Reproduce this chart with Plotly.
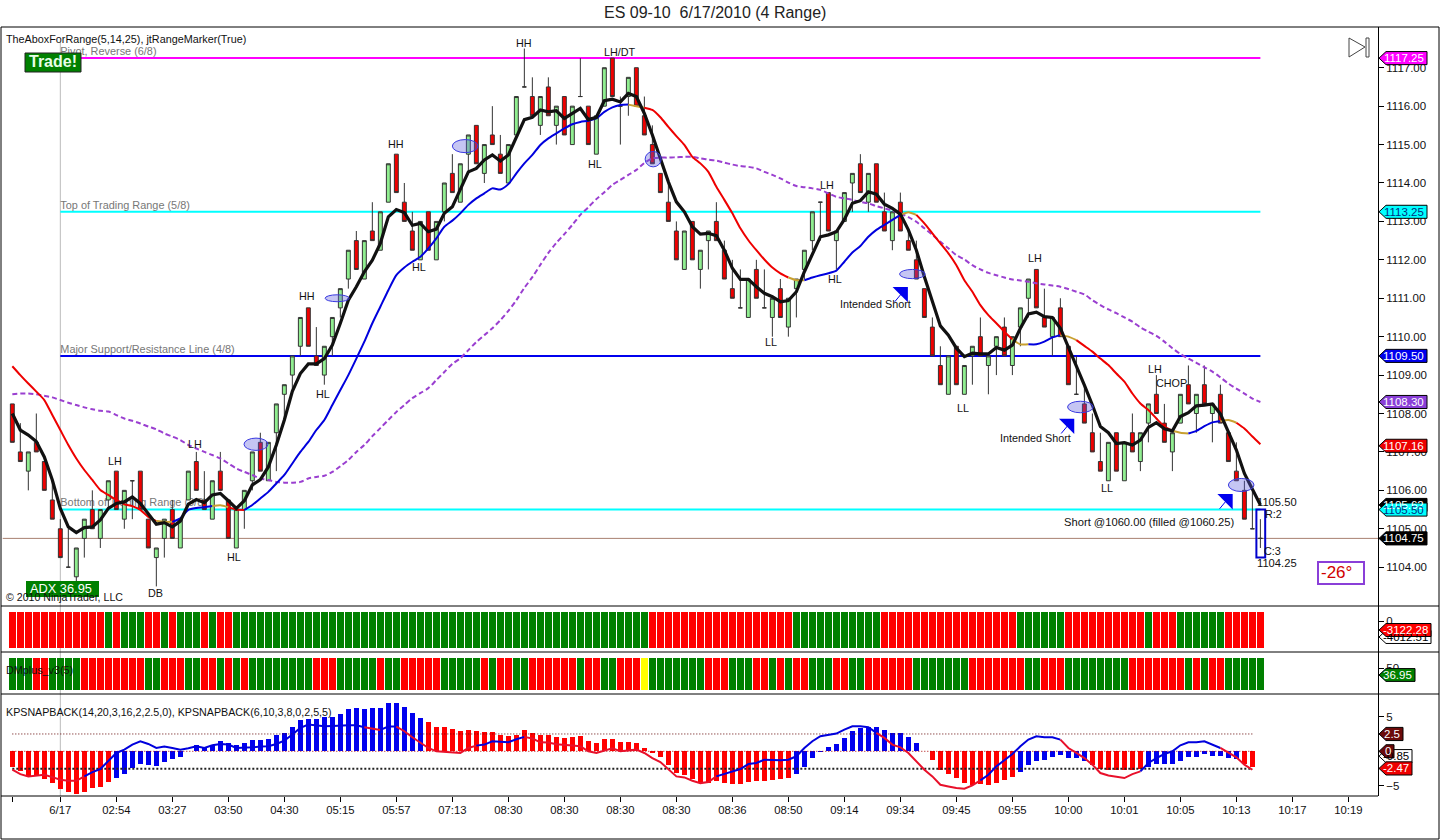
import plotly.graph_objects as go

FONT = "Liberation Sans"

# 4 range bars
opens = [1108.25,1107,1106.5,1107.25,1106.75,1105.75,1105,1104,1103.75,1104.75,1105.5,1104.75,1105.75,1106.5,1105.25,1106.25,1106.5,1105.25,1104.25,1104.75,
         1105.5,1104.5,1105.75,1106.75,1105.75,1105.25,1106.5,1105.75,1104.5,1105.5,1106.25,1107.25,1106.25,1107.5,1108.5,1109,1109.75,1110.75,1109.5,1109,
         1110,1110.75,1111.5,1112.5,1111.5,1112.75,1112.25,1113.5,1114.75,1113.5,1112.75,1112,1113.25,1112,1113.25,1114.25,1113.5,1114.75,1115.5,1114.25,
         1115.25,1114.75,1114,1115.25,1116.5,1116.25,1115.5,1116.5,1115.5,1116.25,1115,1116.25,1116,1114.75,1116,1117.25,1116,1116.25,1117,1115.75,
         1115,1114.25,1113.5,1112.75,1111.75,1113,1111.75,1112.5,1113,1112.25,1111.25,1110.75,1110.5,1111.75,1110.75,1110.5,1111.25,1110.25,1111.25,1111.75,
         1112.5,1113.5,1113.75,1112.5,1113,1114,1114.5,1113.5,1114.5,1113.25,1112.5,1113.5,1112.5,1112,1111.25,1110.25,1109.25,1108.5,1109.75,1108.5,
         1109.5,1110,1109.25,1109.75,1110.25,1109.25,1110.25,1111,1111.75,1110.5,1110,1110.75,1109.75,1108.5,1108.25,1107.5,1106.75,1106.25,1107.5,1106.25,
         1107.5,1106.75,1107.75,1108.5,1107.75,1107,1107.75,1108.75,1108,1108.75,1108,1108.5,1107.5,1106.5,1106,1105,1104.75]
highs = [1108.25,1107.75,1107,1108,1106.75,1106.25,1105.25,1105,1104.5,1105.25,1106,1105.5,1106.25,1106.5,1106,1106.25,1106.5,1105.25,1104.5,1105.25,
         1105.75,1105.25,1106.5,1107,1106.5,1106.25,1107,1105.75,1105.5,1106,1107,1107.5,1107.25,1108.25,1108.75,1109.5,1110.5,1110.75,1110.25,1109.75,
         1110.5,1111.25,1112.25,1112.75,1112.5,1113.5,1113.25,1114.5,1114.75,1114,1113.25,1113,1113.25,1113,1114,1114.75,1114.5,1115.25,1115.5,1115,
         1116,1115.25,1115,1116.25,1117.5,1116.75,1116.25,1116.75,1116,1116.25,1116,1117.25,1116,1115.75,1117,1117.25,1116.25,1116.75,1117,1116.25,
         1115.5,1114.25,1114,1113,1112.75,1113,1112.25,1112.75,1113.5,1112.5,1112,1111.75,1111.5,1112,1111.75,1111,1111.5,1111,1111.5,1112.25,
         1113.25,1113.5,1113.75,1112.75,1113.75,1114.25,1114.75,1114.25,1114.5,1113.75,1113.25,1113.75,1112.75,1112.5,1111.25,1110.5,1109.75,1109.5,1109.75,1109.25,
         1109.75,1110.5,1109.5,1110,1110.5,1110,1110.75,1111.5,1111.75,1111.25,1110.5,1111,1109.75,1109.5,1108.75,1108,1107.5,1107.25,1107.5,1107.25,
         1108,1107.5,1108.25,1109,1108.25,1107.5,1108.5,1109.25,1108.5,1109.25,1108.25,1108.75,1107.5,1107.25,1106.25,1106,1105.25]
lows = [1107.25,1106.75,1106,1107,1106,1105.25,1104.25,1104,1103.5,1104.25,1105,1104.5,1105.5,1105.5,1105,1105.25,1105.5,1104.5,1103.5,1104.25,
        1104.75,1104.5,1105.75,1106,1105.5,1105.25,1106,1104.75,1104.5,1105,1106,1106.5,1106.25,1106.5,1107.75,1108.5,1109.5,1109.75,1109.25,1108.75,
        1109.5,1110.5,1111.25,1111.75,1111.5,1112.5,1112.25,1113.5,1113.75,1113,1112.25,1112,1112.25,1112,1113,1113.75,1113.5,1114.25,1114.5,1114,
        1115,1114.25,1114,1115.25,1116.5,1115.75,1115.25,1115.75,1115,1115.25,1115,1116.25,1115,1114.75,1116,1116.25,1115,1115.75,1116,1115.25,
        1114.5,1113.75,1113,1112,1111.75,1112,1111.25,1111.75,1112.5,1111.5,1111,1110.75,1110.5,1111,1110.75,1110,1110.5,1110,1110.5,1111.5,
        1112.25,1112.5,1112.75,1111.75,1113,1113.25,1113.75,1113.25,1113.5,1112.75,1112.25,1112.75,1112.25,1111.5,1110.5,1109.5,1108.75,1108.5,1108.75,1108.5,
        1108.75,1109.5,1108.5,1109,1109.5,1109,1109.75,1110.5,1110.75,1110.25,1109.5,1110,1108.75,1108.5,1107.75,1107,1106.5,1106.25,1106.5,1106.25,
        1107,1106.5,1107.25,1108,1107.25,1106.5,1107.75,1108.25,1107.5,1108.25,1107.25,1107.75,1106.75,1106.25,1105.25,1105,1104.5]
closes = [1107.25,1106.75,1107,1107,1106,1105.25,1104.25,1104,1104.5,1105.25,1105,1105.5,1106.25,1105.5,1106,1106.25,1105.5,1104.5,1104.5,1105.25,
          1104.75,1105.25,1106.5,1106,1105.5,1106.25,1106,1104.75,1105.5,1106,1107,1106.5,1107.25,1108.25,1108.75,1109.5,1110.5,1109.75,1109.25,1109.75,
          1110.5,1111.25,1112.25,1111.75,1112.5,1112.5,1113.25,1114.5,1113.75,1113,1112.25,1113,1112.25,1113,1114,1113.75,1114.5,1115.25,1114.5,1115,
          1115,1114.25,1115,1116.25,1116.5,1115.75,1116.25,1115.75,1116,1115.25,1116,1116.25,1115,1115.75,1117,1116.25,1116,1116.75,1116,1115.25,
          1114.5,1113.75,1113,1112,1112.75,1112,1112.25,1112.75,1112.5,1111.5,1111,1110.75,1111.5,1111,1110.75,1111,1110.5,1111,1111.5,1112.25,
          1113.25,1113.5,1112.75,1112.75,1113.75,1114.25,1113.75,1114.25,1113.5,1112.75,1113.25,1112.75,1112.25,1111.5,1110.5,1109.5,1108.75,1109.5,1108.75,1109.25,
          1109.75,1109.5,1109.5,1110,1109.5,1110,1110.75,1111.5,1110.75,1110.25,1110.5,1110,1108.75,1108.5,1107.75,1107,1106.5,1107.25,1106.5,1107.25,
          1107,1107.5,1108.25,1108,1107.25,1107.5,1108.5,1108.25,1108.5,1108.25,1108.25,1107.75,1106.75,1106.25,1105.25,1105,1104.75]

# fast average (black)
fast_ma = [1108,1107.57,1107.44,1107.27,1106.87,1106.27,1105.53,1105.05,1104.9,1105.03,1105.05,1105.23,1105.53,1105.66,1105.7,1105.83,1105.66,1105.4,1105.12,1105.16,
           1105.05,1105.2,1105.64,1105.76,1105.68,1105.88,1105.92,1105.73,1105.53,1105.73,1106.14,1106.28,1106.61,1107.18,1107.83,1108.58,1109.04,1109.29,1109.29,1109.43,
           1109.78,1110.35,1110.95,1111.3,1111.69,1111.99,1112.43,1113.12,1113.31,1113.23,1112.9,1112.95,1112.73,1112.8,1113.21,1113.38,1113.82,1114.29,1114.38,1114.6,
           1114.73,1114.57,1114.73,1115.2,1115.65,1115.71,1115.9,1115.85,1115.88,1115.68,1115.81,1115.94,1115.65,1115.71,1116.14,1116.18,1116.11,1116.33,1116.25,1115.81,
           1115.25,1114.64,1114.03,1113.51,1113.25,1112.86,1112.67,1112.69,1112.63,1112.25,1111.78,1111.49,1111.49,1111.3,1111.13,1111.04,1110.91,1110.94,1111.17,1111.69,
           1112.17,1112.6,1112.65,1112.73,1113.05,1113.47,1113.54,1113.77,1113.71,1113.45,1113.34,1113.19,1112.78,1112.25,1111.56,1110.91,1110.28,1110.04,1109.7,1109.48,
           1109.57,1109.55,1109.55,1109.72,1109.65,1109.78,1110.22,1110.59,1110.64,1110.52,1110.5,1110.22,1109.74,1109.26,1108.74,1108.22,1107.66,1107.5,1107.22,1107.24,
           1107.18,1107.31,1107.64,1107.76,1107.6,1107.55,1107.92,1108.02,1108.2,1108.22,1108.25,1107.99,1107.53,1107.05,1106.44,1106.05,1105.62]

# trend average, changes colour with direction
trend_ma = [1109.23,1109,1108.78,1108.57,1108.35,1107.96,1107.57,1107.18,1106.83,1106.53,1106.27,1106.01,1105.88,1105.75,1105.64,1105.59,1105.49,1105.31,1105.2,1105.18,
            1105.18,1105.27,1105.49,1105.54,1105.56,1105.59,1105.61,1105.56,1105.5,1105.49,1105.62,1105.79,1105.96,1106.18,1106.4,1106.7,1107,1107.26,1107.57,1107.83,
            1108.22,1108.61,1109,1109.43,1109.87,1110.35,1110.78,1111.21,1111.6,1111.8,1111.95,1112.08,1112.3,1112.56,1112.86,1113.02,1113.21,1113.43,1113.6,1113.73,
            1113.86,1113.83,1113.97,1114.25,1114.51,1114.73,1114.99,1115.16,1115.29,1115.42,1115.53,1115.59,1115.62,1115.68,1115.85,1115.97,1116.03,1116.04,1116,1115.96,
            1115.9,1115.71,1115.46,1115.22,1114.99,1114.68,1114.51,1114.29,1113.9,1113.56,1113.21,1112.82,1112.51,1112.25,1112.01,1111.8,1111.65,1111.54,1111.47,1111.47,
            1111.54,1111.6,1111.65,1111.72,1111.95,1112.19,1112.36,1112.6,1112.78,1112.91,1113.04,1113.17,1113.24,1113.17,1112.95,1112.69,1112.43,1112.17,1111.86,1111.47,
            1111.17,1110.82,1110.56,1110.35,1110.13,1109.93,1109.8,1109.8,1109.8,1109.87,1109.98,1110.04,1110,1109.91,1109.76,1109.61,1109.43,1109.26,1109.04,1108.83,
            1108.52,1108.26,1108.09,1107.87,1107.66,1107.55,1107.5,1107.48,1107.55,1107.67,1107.77,1107.8,1107.83,1107.76,1107.61,1107.4,1107.2]
trend_breaks = [0,18,20,25,27,29,77,79,97,99,111,113,125,127,131,133,145,147,151,153,156]
trend_colors = ["#EE0000","#C8A030","#0000DD","#C8A030","#EE0000","#0000DD","#C8A030","#EE0000","#C8A030","#0000DD",
                "#C8A030","#EE0000","#C8A030","#0000DD","#C8A030","#EE0000","#C8A030","#0000DD","#C8A030","#EE0000"]

# slow average (purple dashes)
slow_ma = [1108.5,1108.52,1108.52,1108.5,1108.46,1108.42,1108.35,1108.28,1108.22,1108.16,1108.11,1108.07,1108.05,1107.96,1107.87,1107.81,1107.74,1107.66,1107.59,1107.48,
           1107.4,1107.31,1107.18,1107.09,1107,1106.92,1106.83,1106.7,1106.57,1106.48,1106.4,1106.31,1106.27,1106.22,1106.2,1106.2,1106.22,1106.31,1106.35,1106.38,
           1106.48,1106.63,1106.79,1107,1107.18,1107.41,1107.62,1107.83,1108.04,1108.22,1108.4,1108.53,1108.66,1108.87,1109.08,1109.29,1109.44,1109.65,1109.86,1110.04,
           1110.22,1110.43,1110.67,1110.95,1111.27,1111.55,1111.87,1112.18,1112.44,1112.67,1112.91,1113.17,1113.37,1113.58,1113.76,1113.95,1114.08,1114.21,1114.34,1114.52,
           1114.64,1114.66,1114.66,1114.67,1114.68,1114.68,1114.64,1114.61,1114.58,1114.53,1114.48,1114.44,1114.42,1114.38,1114.29,1114.21,1114.12,1114.01,1113.92,1113.89,
           1113.86,1113.82,1113.73,1113.64,1113.6,1113.56,1113.51,1113.47,1113.4,1113.34,1113.28,1113.21,1113.11,1112.99,1112.82,1112.65,1112.47,1112.3,1112.12,1112.01,
           1111.86,1111.75,1111.66,1111.6,1111.54,1111.49,1111.46,1111.43,1111.39,1111.36,1111.33,1111.3,1111.24,1111.17,1111.1,1110.95,1110.82,1110.71,1110.61,1110.5,
           1110.39,1110.24,1110.13,1110.02,1109.87,1109.7,1109.55,1109.43,1109.32,1109.2,1109.09,1108.94,1108.78,1108.65,1108.52,1108.39,1108.3]

# Murrey style levels
level_prices = [1117.25, 1113.25, 1109.5, 1105.5]
level_colors = ["#FF00FF", "#00FFFF", "#0000EE", "#00FFFF"]
level_names = ["Pivot, Reverse (6/8)", "Top of Trading Range (5/8)", "Major Support/Resistance Line (4/8)", "Bottom of Trading Range (3/8)"]
last_price = 1104.75

# color panels: R red, G green, Y yellow
top_cells = "R"*12+"G"+"R"+"G"*3+"R"*2+"G"+"R"+"G"*3+"R"+"G"+"R"*2+"G"*52+"R"*18+"G"*11+"R"*17+"G"*6+"R"*10+"G"+"R"*3+"G"*6+"R"*5
dm_cells = ("G"*3+"R"*2+"G"*4+"R"*8+"G"*2+"R"*3+"G"*2+"R"*2+"G"+"R"+"G"+"R"+"G"*8+"R"*3+"G"*5+"R"+"G"*2+"R"*5+"G"*5+"R"+"G"+"R"*2+"G"*2
            +"R"*6+"G"+"R"*2+"G"*2+"R"*3+"Y"+"G"*7+"R"*3+"G"*3+"R"*2+"G"+"R"+"G"+"R"*2+"G"*3+"R"*2+"G"*2+"R"*6+"G"*7+"R"*7+"G"*2+"R"*3+"G"*8+"R"*7+"G"+"R"+"G"+"R"*2+"G"*5)
cell_colors = {"R": "#FF0000", "G": "#008000", "Y": "#FFFF00"}

# KPSNAPBACK histogram and line
kp_hist = [-2.27,-2.9,-3.62,-3.62,-4,-4.59,-5.46,-5.89,-6.18,-5.89,-5.31,-5.12,-4.49,-3.86,-3.29,-2.42,-1.84,-1.93,-2.08,-1.55,
           -1.11,-0.82,0,0.87,0.58,0.97,1.45,1.16,0.87,1.16,1.59,1.59,1.79,2.32,2.61,3.48,4.49,4.73,4.69,4.88,
           4.98,5.41,6.09,6.23,6.14,6.18,6.28,6.96,6.96,6.38,5.51,4.78,4.2,3.48,3.48,3.19,2.9,3.04,2.9,2.75,
           2.75,2.42,2.17,2.42,3.04,2.61,2.42,2.32,2.03,1.93,2.03,2.17,1.45,1.16,1.74,1.74,1.3,1.3,1.16,0.43,
           -0.24,-0.87,-2.03,-3.19,-3.48,-4.06,-4.64,-4.54,-4.35,-4.64,-4.78,-4.78,-4.49,-4.35,-4.35,-4.2,-4.06,-3.91,-3.33,-2.32,
           -1.01,-0.1,0.58,1.01,1.88,2.9,3.33,3.57,3.48,3.04,2.61,2.61,2.03,1.16,0,-1.3,-2.66,-3.29,-3.86,-4.64,
           -4.83,-4.78,-4.93,-4.64,-4.2,-3.77,-3.04,-2.03,-1.45,-1.3,-0.87,-0.58,-1.01,-1.01,-1.45,-2.03,-2.61,-2.75,-2.75,-2.75,
           -2.75,-2.61,-2.32,-1.88,-1.88,-1.88,-1.45,-0.87,-0.87,-0.43,-0.72,-0.72,-1.01,-1.16,-1.88,-2.32]
kp_hist_dir = "R"*13+"B"*39+"R"*46+"B"*16+"R"*12+"B"*9+"R"*7+"B"*12+"R"*2
kp_line = [-2.66,-3.29,-3.62,-3.53,-3.38,-3.72,-4.11,-4.25,-4.25,-3.62,-3,-2.56,-1.45,-0.24,0.24,0.97,1.45,1.06,0.48,0.68,
           0.48,0.24,0.43,0.72,0.48,0.87,1.06,0.97,0.48,0.48,0.58,0.68,0.72,1.06,1.55,2.42,3.38,3.86,3.72,3.62,
           3.67,3.77,3.77,3.77,3.48,3.33,3.09,3.57,3.57,2.9,2.03,1.21,0.48,0,-0.1,-0.24,-0.24,0.48,0.82,0.97,
           1.45,1.4,1.3,1.74,2.08,1.84,1.3,1.26,1.01,0.87,0.82,0.72,0,-0.24,0.1,0.43,0,0.14,0.24,-0.24,
           -0.97,-1.55,-2.66,-3.62,-3.77,-4.25,-4.59,-4.44,-3.62,-3.29,-3,-2.56,-1.84,-1.69,-1.21,-1.26,-1.3,-1.21,-0.72,0.48,
           1.45,2.17,2.42,2.56,3.14,3.62,3.62,3.48,2.66,1.93,0.97,0.58,-0.24,-1.45,-2.66,-3.62,-4.83,-5.07,-5.31,-5.41,
           -4.93,-4.2,-3.38,-2.17,-1.21,-0.39,0.72,1.69,2.17,2.03,2.03,1.69,0.48,-0.24,-0.97,-1.93,-3.14,-3.48,-3.72,-3.86,
           -3.29,-2.9,-1.69,-0.97,-0.39,0,0.87,1.3,1.3,1.45,0.97,0.48,-0.24,-0.87,-1.93,-2.66]
kp_breaks = [0,9,44,46,48,58,64,88,108,121,131,141,151,155]
kp_colors = ["#E8102A","#0000DD","#E8102A","#0000DD","#E8102A","#0000DD","#E8102A","#0000DD","#E8102A","#0000DD","#E8102A","#0000DD","#E8102A"]
kp_levels = [2.5, 0, -2.5]
kp_level_colors = ["#600000", "#AA0000", "#222222"]

tick_bars = [0] + list(range(6, 168, 7))
tick_labels = ["", "6/17", "02:54", "03:27", "03:50", "04:30", "05:15", "05:57", "07:13", "08:30", "08:30", "08:30", "08:30",
               "08:36", "08:50", "09:14", "09:34", "09:45", "09:55", "10:00", "10:01", "10:05", "10:13", "10:17", "10:19"]

# hand written swing labels
note_text = ["HH","LH/DT","HH","HH","HL","HL","LH","LH","DB","HL","HL","LH","HL","LL","LH","LL","LL","LH","CHOP",
             "Intended Short","Intended Short"]
note_bar = [63.96,75.96,47.96,36.84,50.84,38.84,12.84,22.84,17.84,27.71,72.84,101.84,102.84,94.84,127.84,118.84,136.84,142.84,144.84,
            107.84,127.84]
note_price = [1117.64,1117.41,1115.01,1111.06,1111.81,1108.51,1106.77,1107.21,1103.33,1104.27,1114.49,1113.95,1111.51,1109.86,1112.05,1108.14,1106.06,1109.16,1108.79,
              1110.85,1107.36]

ellipse_bar = [30.46, 40.6, 56.6, 80.1, 112.5, 133.5, 153.6]
ellipse_price = [1107.2, 1111.0, 1114.96, 1114.62, 1111.63, 1108.17, 1106.14]
ellipse_half_w = [1.5, 1.5, 1.6, 1.0, 1.6, 1.6, 1.6]
ellipse_half_h = [0.16, 0.09, 0.17, 0.2, 0.12, 0.15, 0.17]

arrow_bar = [111.3, 132.1, 151.9]
arrow_price = [1111.16, 1107.73, 1105.77]


def px(x):
    return x / 1440


def py(y):
    return 1 - y / 840


def note(x, y, text, size=10.8, color="#111111", anchor="center", **kw):
    fig.add_annotation(x=x, y=y, text=text, showarrow=False, xanchor=anchor, yanchor="middle",
                       font=dict(family=FONT, size=size, color=color), **kw)


def screen_note(x, y, text, **kw):
    note(px(x), py(y), text, xref="paper", yref="paper", **kw)


def price_tag(value, text, fill, end_px, half, yref="y", text_color="white"):
    # flag on the price scale, pointed towards the axis
    x0, x1, x2 = px(1379), px(1386), px(end_px)
    path = (f"M {x0} {value} L {x1} {value + half} L {x2} {value + half} "
            f"L {x2} {value - half} L {x1} {value - half} Z")
    fig.add_shape(type="path", path=path, xref="paper", yref=yref, fillcolor=fill,
                  line=dict(color="black", width=1))
    fig.add_annotation(x=px(end_px - 1), y=value, xref="paper", yref=yref, text=text, showarrow=False,
                       xanchor="right", yanchor="middle", font=dict(family=FONT, size=11.5, color=text_color))


fig = go.Figure()
bars = list(range(len(opens)))

fig.add_trace(go.Candlestick(x=bars, open=opens, high=highs, low=lows, close=closes, whiskerwidth=0,
                             increasing=dict(fillcolor="#90EE90", line=dict(color="#333333", width=1)),
                             decreasing=dict(fillcolor="#F00000", line=dict(color="#333333", width=1))))

fig.add_trace(go.Scatter(x=bars, y=slow_ma, mode="lines",
                         line=dict(color="#9A3FD0", width=2, dash="5px,3px", shape="spline", smoothing=0.8)))
for k, color in enumerate(trend_colors):
    a, b = trend_breaks[k], trend_breaks[k + 1]
    fig.add_trace(go.Scatter(x=bars[a:b + 1], y=trend_ma[a:b + 1], mode="lines",
                             line=dict(color=color, width=2, shape="spline", smoothing=0.6)))
fig.add_trace(go.Scatter(x=bars, y=fast_ma, mode="lines", line=dict(color="#111111", width=3.2)))

# blue short entry arrows
for b, p in zip(arrow_bar, arrow_price):
    fig.add_trace(go.Scatter(x=[b - 1, b], y=[p - 0.25, p], mode="lines", line=dict(color="#0000EE", width=1)))
fig.add_trace(go.Scatter(x=arrow_bar, y=arrow_price, mode="markers",
                         marker=dict(symbol="triangle-ne", size=17, color="#0000EE")))

fig.add_trace(go.Bar(x=bars, y=[1] * len(top_cells), yaxis="y2", width=0.9,
                     marker=dict(color=[cell_colors[c] for c in top_cells], line=dict(width=0))))
fig.add_trace(go.Bar(x=bars, y=[1] * len(dm_cells), yaxis="y3", width=0.9,
                     marker=dict(color=[cell_colors[c] for c in dm_cells], line=dict(width=0))))

fig.add_trace(go.Bar(x=bars[:len(kp_hist)], y=kp_hist, yaxis="y4", width=0.68,
                     marker=dict(color=["#0000EE" if c == "B" else "#FF0000" for c in kp_hist_dir], line=dict(width=0))))
for level, color in zip(kp_levels, kp_level_colors):
    fig.add_trace(go.Scatter(x=[0, len(kp_hist) - 1], y=[level, level], yaxis="y4", mode="lines",
                             line=dict(color=color, width=2 if level < 0 else 1, dash="2px,2px" if level < 0 else "1px,2px")))
for k, color in enumerate(kp_colors):
    a, b = kp_breaks[k], kp_breaks[k + 1]
    fig.add_trace(go.Scatter(x=bars[a:b + 1], y=kp_line[a:b + 1], yaxis="y4", mode="lines", line=dict(color=color, width=2)))

# levels sit under the bars, with their captions
for price, color, name in zip(level_prices, level_colors, level_names):
    fig.add_shape(type="line", x0=6, x1=156, y0=price, y1=price, xref="x", yref="y", layer="below",
                  line=dict(color=color, width=2),
                  label=dict(text=name, textposition="start", yanchor="bottom", padding=2,
                             font=dict(family=FONT, size=10.9, color="#777777")))
fig.add_shape(type="line", x0=-1.2, x1=170.7, y0=last_price, y1=last_price, xref="x", yref="y", layer="below",
              line=dict(color="#A88070", width=1))
fig.add_shape(type="line", x0=6, x1=6, y0=py(796), y1=py(42), xref="x", yref="paper", layer="below",
              line=dict(color="#BBBBBB", width=1))

for b, p, hw, hh in zip(ellipse_bar, ellipse_price, ellipse_half_w, ellipse_half_h):
    fig.add_shape(type="circle", x0=b - hw, x1=b + hw, y0=p - hh, y1=p + hh, xref="x", yref="y",
                  fillcolor="rgba(90,90,220,0.35)", line=dict(color="#3A3AE0", width=1))

# last bar range box
fig.add_shape(type="rect", x0=155.5, x1=156.6, y0=1104.25, y1=1105.5, xref="x", yref="y",
              line=dict(color="#0000CC", width=2))

for t, b, p in zip(note_text, note_bar, note_price):
    note(b, p, t)
note(142.09, 1105.18, "Short @1060.00 (filled @1060.25)", size=11.2)
note(158.1, 1105.69, "1105.50", size=11.2)
note(157.7, 1105.38, "R:2", size=10.8)
note(157.5, 1104.41, "C:3", size=10.8)
note(158.1, 1104.11, "1104.25", size=11.2)

fig.update_layout(
    width=1440, height=840, autosize=False, showlegend=False, barmode="overlay", bargap=0,
    margin=dict(l=0, r=0, t=0, b=0), paper_bgcolor="white", plot_bgcolor="white",
    xaxis=dict(domain=[0, px(1378)], anchor="y4", range=[-1.54, 170.7], rangeslider=dict(visible=False),
               tickmode="array", tickvals=tick_bars, ticktext=tick_labels, ticks="outside", ticklen=5, tickcolor="black",
               ticklabelstandoff=-2, showgrid=False, zeroline=False, showline=False,
               tickfont=dict(family=FONT, size=11.3, color="#111111")),
    yaxis=dict(domain=[py(606), py(27)], range=[1102.99, 1118.06], anchor="x", side="right",
               tickmode="array", tickvals=list(range(1104, 1118)), tickformat=".2f", ticks="outside", ticklen=5,
               tickcolor="black", showline=True, linecolor="black", showgrid=False, zeroline=False,
               tickfont=dict(family=FONT, size=11.5, color="#111111")),
    yaxis2=dict(domain=[py(652), py(606)], range=[-0.111, 1.167], anchor="x", side="right",
                tickmode="array", tickvals=[0.75], ticktext=["0"], ticks="outside", ticklen=5, tickcolor="black",
                showline=True, linecolor="black", showgrid=False, zeroline=False,
                tickfont=dict(family=FONT, size=11.5, color="#111111")),
    yaxis3=dict(domain=[py(694), py(652)], range=[-0.125, 1.1875], anchor="x", side="right",
                tickmode="array", tickvals=[0.6875], ticktext=["50"], ticks="outside", ticklen=5, tickcolor="black",
                showline=True, linecolor="black", showgrid=False, zeroline=False,
                tickfont=dict(family=FONT, size=11.5, color="#111111")),
    yaxis4=dict(domain=[py(796), py(694)], range=[-6.45, 8.27], anchor="x", side="right",
                tickmode="array", tickvals=[5, -5], ticks="outside", ticklen=5, tickcolor="black",
                showline=True, linecolor="black", showgrid=False, zeroline=False,
                tickfont=dict(family=FONT, size=11.5, color="#111111")),
)

# tags on the scales, the later ones cover the earlier ones
price_tag(1117.25, "1117.25", "#FF00FF", 1427, 0.17)
price_tag(1113.25, "1113.25", "#00FFFF", 1427, 0.17, text_color="#003080")
price_tag(1109.50, "1109.50", "#0000EE", 1427, 0.17)
price_tag(1108.30, "1108.30", "#8A3FD8", 1427, 0.17)
price_tag(1107.16, "1107.16", "#EE0000", 1427, 0.17)
price_tag(1105.62, "1105.62", "#000000", 1427, 0.17)
price_tag(1105.50, "1105.50", "#00FFFF", 1427, 0.17, text_color="#003080")
price_tag(1104.75, "1104.75", "#000000", 1427, 0.17)
price_tag(0.306, "-4012.51", "#FFFFFF", 1431, 0.18, yref="y2", text_color="black")
price_tag(0.5, "-3122.28", "#FF0000", 1431, 0.18, yref="y2")
price_tag(0.469, "36.95", "#008000", 1415, 0.2, yref="y3")
price_tag(2.5, "2.5", "#6B0A0A", 1403, 0.95, yref="y4")
price_tag(-0.7, "-0.85", "#FFFFFF", 1412, 0.95, yref="y4", text_color="black")
price_tag(0, "0", "#6B0A0A", 1394, 0.95, yref="y4")
price_tag(-2.47, "-2.47", "#EE0000", 1412, 0.95, yref="y4")

# window frame and panel rules
for y in (606, 652, 694):
    fig.add_shape(type="line", x0=px(1), x1=px(1439), y0=py(y), y1=py(y), xref="paper", yref="paper",
                  line=dict(color="black", width=1))
fig.add_shape(type="line", x0=px(1), x1=px(1378), y0=py(796), y1=py(796), xref="paper", yref="paper",
              line=dict(color="black", width=1))
fig.add_shape(type="rect", x0=px(1), x1=px(1439), y0=py(839), y1=py(27), xref="paper", yref="paper",
              line=dict(color="black", width=1))

# skip button in the corner
fig.add_shape(type="path", path=f"M {px(1349)} {py(38)} L {px(1365)} {py(47)} L {px(1349)} {py(57)} Z",
              xref="paper", yref="paper", line=dict(color="#444444", width=1), fillcolor="white")
fig.add_shape(type="rect", x0=px(1366), x1=px(1369), y0=py(57), y1=py(38), xref="paper", yref="paper",
              line=dict(color="#444444", width=1), fillcolor="white")

# Trade and ADX boxes
fig.add_shape(type="rect", x0=px(25), x1=px(81), y0=py(72), y1=py(53), xref="paper", yref="paper",
              fillcolor="#008000", line=dict(color="#222222", width=1))
screen_note(53, 62, "<b>Trade!</b>", size=16, color="#E8FFE8")
fig.add_shape(type="rect", x0=px(26), x1=px(99), y0=py(597), y1=py(581), xref="paper", yref="paper",
              fillcolor="#008000", line=dict(width=0))
screen_note(61, 588, "ADX 36.95", size=12.8, color="white")
fig.add_shape(type="rect", x0=px(1318), x1=px(1364), y0=py(584), y1=py(562), xref="paper", yref="paper",
              line=dict(color="#8A3FD8", width=2))
screen_note(1336, 572, "-26°", size=17, color="#D00000")

screen_note(715, 13, "ES 09-10\u00a0 6/17/2010 (4 Range)", size=16, color="#222222")
screen_note(4, 39, "TheAboxForRange(5,14,25), jtRangeMarker(True)", size=10.8, anchor="left")
screen_note(4, 597, "© 2010 NinjaTrader, LLC", size=10.6, anchor="left")
screen_note(4, 670, "DMplus_v3(5)", size=10.8, anchor="left")
screen_note(4, 712, "KPSNAPBACK(14,20,3,16,2,2.5,0), KPSNAPBACK(6,10,3,8,0,2,5,5)", size=10.7, anchor="left")

fig.write_html("out.html", config={"displayModeBar": False},
               post_script="document.body.style.margin='0';document.body.style.overflow='hidden';")
